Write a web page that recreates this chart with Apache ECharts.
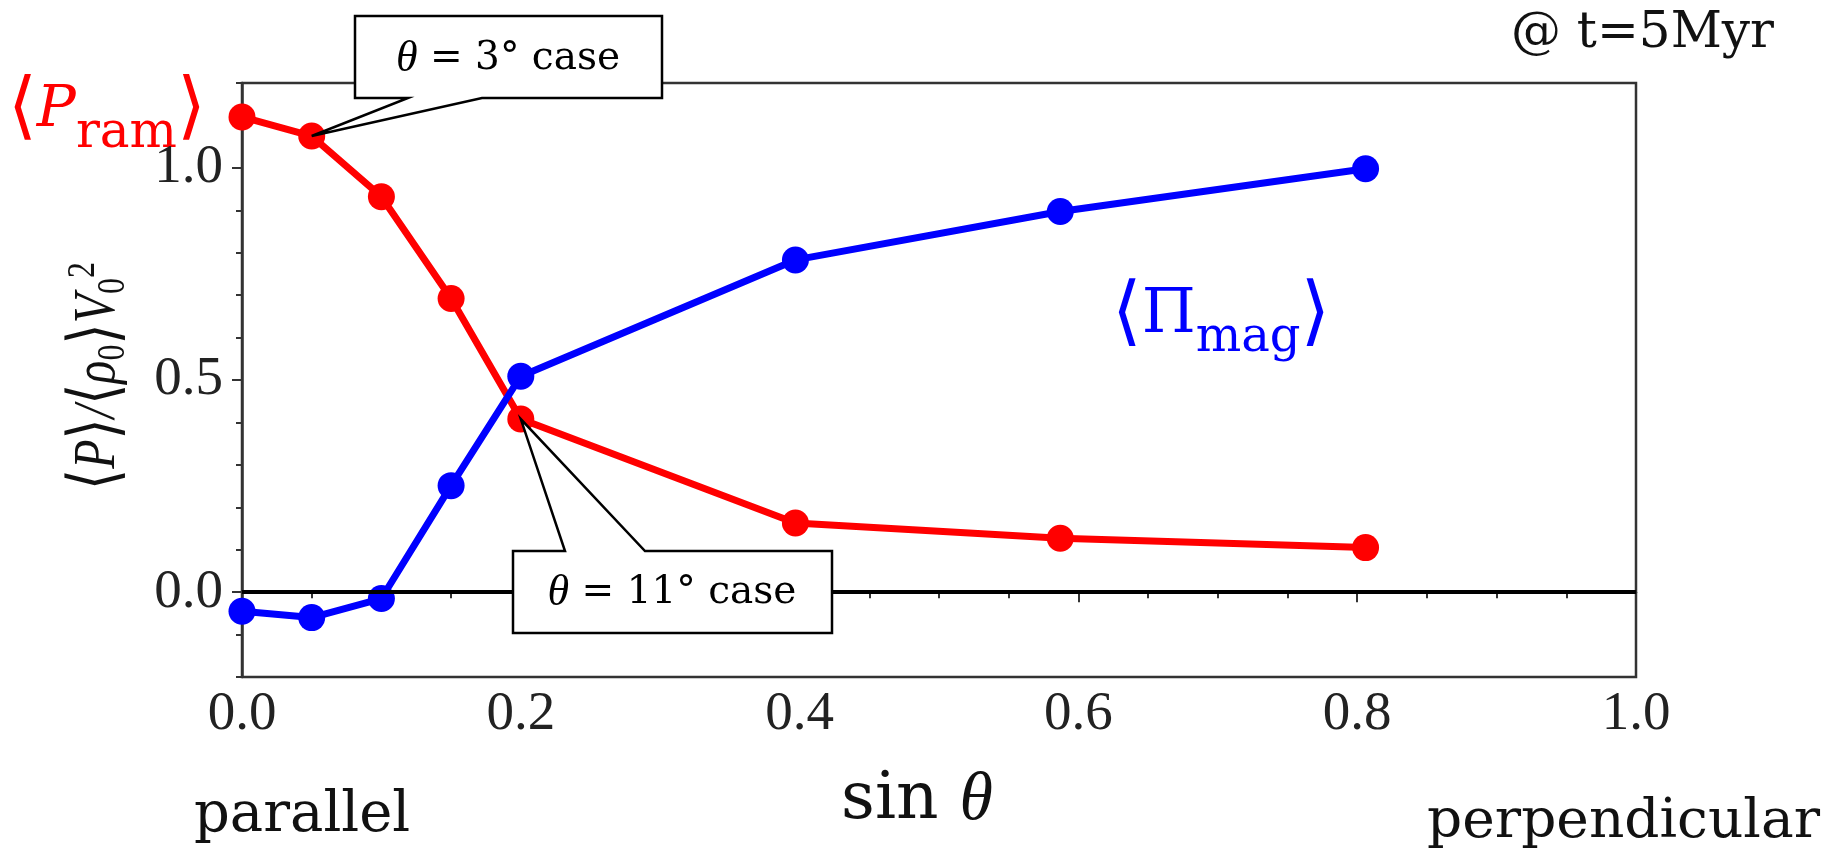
<!DOCTYPE html>
<html>
<head>
<meta charset="utf-8">
<script src="https://cdn.jsdelivr.net/npm/echarts@6/dist/echarts.min.js"></script>
<style>
  html, body { margin: 0; padding: 0; background: #fff; }
  #chart { width: 1833px; height: 855px; }
</style>
</head>
<body>
<div id="chart"></div>
<script>
// 压力随磁场倾角的变化：冲压 <P_ram> 与磁压 <Π_mag>，t = 5 Myr
const SIN_THETA = [0, 0.05, 0.1, 0.15, 0.2, 0.397, 0.587, 0.806];
const P_RAM = [1.12, 1.075, 0.932, 0.692, 0.408, 0.163, 0.127, 0.105];
const PI_MAG = [-0.045, -0.06, -0.015, 0.251, 0.509, 0.783, 0.897, 0.998];
const Y_LABELS = [0, 0.5, 1.0];

const SERIF = '"Liberation Serif", "DejaVu Serif", serif';
const CAMBRIA = '"DejaVu Serif", serif';
const BRACKET = '"DejaVu Sans", serif';
const AXIS = '#333';

const chart = echarts.init(document.getElementById('chart'));

const pts = ys => SIN_THETA.map((x, i) => [x, ys[i]]);

chart.setOption({
  backgroundColor: '#fff',
  animation: false,
  grid: { left: 242, right: 197, top: 83, bottom: 178, show: true, borderColor: AXIS, borderWidth: 2.5 },
  xAxis: {
    type: 'value', min: 0, max: 1, interval: 0.2,
    axisLine: { lineStyle: { color: AXIS, width: 2.5 } },
    axisTick: { length: 10, lineStyle: { color: AXIS, width: 2 } },
    minorTick: { show: true, splitNumber: 4, length: 6, lineStyle: { color: AXIS, width: 2 } },
    splitLine: { show: false },
    axisLabel: { margin: 10, color: '#222', fontFamily: SERIF, fontSize: 55, formatter: v => v.toFixed(1) },
  },
  yAxis: [{
    type: 'value', min: -0.2, max: 1.2, interval: 0.1,
    axisLine: { lineStyle: { color: AXIS, width: 2.5 } },
    axisTick: { length: 6, lineStyle: { color: AXIS, width: 2 } },
    splitLine: { show: false },
    axisLabel: {
      margin: 19, color: '#222', fontFamily: SERIF, fontSize: 55,
      customValues: Y_LABELS, formatter: v => v.toFixed(1),
    },
  }, {
    // 长刻度（主刻度）叠加
    type: 'value', min: -0.2, max: 1.2, position: 'left',
    axisLine: { show: false },
    axisTick: { show: true, length: 10, customValues: Y_LABELS, lineStyle: { color: AXIS, width: 2 } },
    axisLabel: { show: false },
    splitLine: { show: false },
  }],
  series: [{
    name: 'P_ram', type: 'line', data: pts(P_RAM),
    symbol: 'circle', symbolSize: 27,
    itemStyle: { color: '#ff0000' },
    lineStyle: { color: '#ff0000', width: 7 },
    markLine: {
      silent: true, symbol: ['none', 'none'], label: { show: false },
      lineStyle: { color: '#000', width: 4, type: 'solid' },
      data: [{ yAxis: 0 }],
    },
  }, {
    name: 'Pi_mag', type: 'line', data: pts(PI_MAG),
    symbol: 'circle', symbolSize: 27,
    itemStyle: { color: '#0000ff' },
    lineStyle: { color: '#0000ff', width: 7 },
  }],
});

// 标注框：尖端指向数据点（像素坐标由坐标轴换算）
const px = (x, y) => chart.convertToPixel({ xAxisIndex: 0, yAxisIndex: 0 }, [x, y]);

function callout(id, [l, t, r, b], tail, tip, downward) {
  const points = downward
    ? [[l, t], [r, t], [r, b], [tail[1], b], tip, [tail[0], b], [l, b]]
    : [[l, t], [tail[0], t], tip, [tail[1], t], [r, t], [r, b], [l, b]];
  return {
    id, type: 'polygon', z: 100, silent: true,
    shape: { points },
    style: { fill: '#fff', stroke: '#000', lineWidth: 2.5 },
  };
}

const caseRich = {
  i: { fontFamily: SERIF, fontStyle: 'italic', fontSize: 44, fill: '#000' },
  n: { fontFamily: CAMBRIA, fontSize: 39, fill: '#000' },
};

function drawNotes() {
  const tip3 = px(SIN_THETA[1], P_RAM[1]);
  const tip11 = px(SIN_THETA[4], P_RAM[4]);
  chart.setOption({
    graphic: [
      callout('c3', [355, 16, 662, 98], [408, 482], tip3, true),
      { type: 'text', z: 101, silent: true, x: 508, y: 59,
        style: { text: '{i|θ}{n| = 3° case}', rich: caseRich, textAlign: 'center', textVerticalAlign: 'middle' } },
      callout('c11', [513, 551, 832, 633], [565, 645], tip11, false),
      { type: 'text', z: 101, silent: true, x: 672, y: 593,
        style: { text: '{i|θ}{n| = 11° case}', rich: caseRich, textAlign: 'center', textVerticalAlign: 'middle' } },
      // 纵轴标题
      { type: 'text', silent: true, x: 98, y: 376, rotation: Math.PI / 2, scaleX: 0.8,
        style: {
          text: '{b|⟨}{i|P}{b|⟩}{i|/}{b|⟨}{i|ρ}{s|0}{b|⟩}{i|V}{s|0}{u|2}',
          textAlign: 'center', textVerticalAlign: 'middle',
          rich: {
            b: { fontFamily: BRACKET, fontSize: 68, lineHeight: 70, fill: '#111' },
            i: { fontFamily: SERIF, fontStyle: 'italic', fontSize: 60, lineHeight: 70, fill: '#111' },
            s: { fontFamily: SERIF, fontSize: 40, lineHeight: 46, verticalAlign: 'bottom', fill: '#111' },
            u: { fontFamily: SERIF, fontSize: 40, lineHeight: 46, verticalAlign: 'top', fill: '#111' },
          },
        } },
      // 系列名
      { type: 'text', silent: true, x: 8, y: 111,
        style: {
          text: '{b|⟨}{i|P}{s|ram}{b|⟩}', textAlign: 'left', textVerticalAlign: 'middle',
          rich: {
            b: { fontFamily: BRACKET, fontSize: 74, lineHeight: 96, fill: '#ff0000' },
            i: { fontFamily: CAMBRIA, fontStyle: 'italic', fontSize: 58, lineHeight: 96, fill: '#ff0000' },
            s: { fontFamily: CAMBRIA, fontSize: 50, lineHeight: 40, verticalAlign: 'bottom', fill: '#ff0000' },
          },
        } },
      { type: 'text', silent: true, x: 1112, y: 316,
        style: {
          text: '{b|⟨}{i|Π}{s|mag}{b|⟩}', textAlign: 'left', textVerticalAlign: 'middle',
          rich: {
            b: { fontFamily: BRACKET, fontSize: 76, lineHeight: 94, fill: '#0000ff' },
            i: { fontFamily: CAMBRIA, fontSize: 62, lineHeight: 94, fill: '#0000ff' },
            s: { fontFamily: CAMBRIA, fontSize: 48, lineHeight: 40, verticalAlign: 'bottom', fill: '#0000ff' },
          },
        } },
      { type: 'text', silent: true, x: 1774, y: 34,
        style: { text: '@ t=5Myr', font: '50px ' + CAMBRIA, fill: '#111', textAlign: 'right', textVerticalAlign: 'middle' } },
      { type: 'text', silent: true, x: 194, y: 816,
        style: { text: 'parallel', font: '56px ' + CAMBRIA, fill: '#111', textAlign: 'left', textVerticalAlign: 'middle' } },
      { type: 'text', silent: true, x: 1820, y: 823,
        style: { text: 'perpendicular', font: '55px ' + CAMBRIA, fill: '#111', textAlign: 'right', textVerticalAlign: 'middle' } },
      { type: 'text', silent: true, x: 917, y: 801,
        style: {
          text: '{r|sin }{i|θ}', textAlign: 'center', textVerticalAlign: 'middle',
          rich: {
            r: { fontFamily: CAMBRIA, fontSize: 66, fill: '#111' },
            i: { fontFamily: SERIF, fontStyle: 'italic', fontSize: 68, fill: '#111' },
          },
        } },
    ],
  });
}
drawNotes();
</script>
</body>
</html>
